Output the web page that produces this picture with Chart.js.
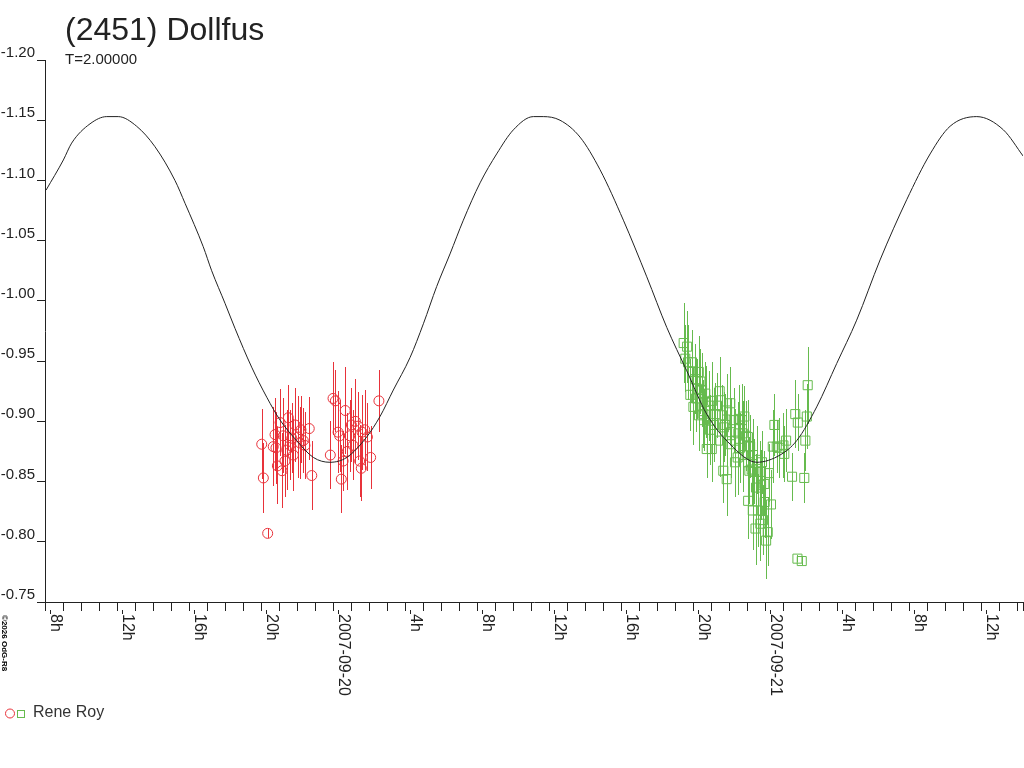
<!DOCTYPE html>
<html>
<head>
<meta charset="utf-8">
<script src="https://cdn.jsdelivr.net/npm/chart.js@4.4.0/dist/chart.umd.min.js"></script>
<style>
  html, body { margin: 0; padding: 0; background: #fff; }
  canvas { display: block; }
</style>
</head>
<body>
<canvas id="lc" width="1024" height="768"></canvas>
<script>
// hours relative to 2007-09-20 0h UT, values in magnitudes
var curveHours = [-16.19,-15.23,-14.77,-13.75,-12.82,-12.18,-11.16,-10.14,-9.03,-8.47,-7.46,-6.99,-6.25,-5.69,-4.77,-3.93,-3.19,-2.27,-1.34,-0.42,0.51,1.62,2.36,3.10,4.03,4.77,5.51,6.25,6.99,7.92,8.84,9.77,10.88,11.43,12.36,13.47,14.58,15.88,17.18,18.29,19.40,20.51,21.81,23.29,24.58,25.51,26.62,27.73,28.84,30.14,31.62,32.92,34.03,35.51,36.99,38.10];
var curveMag = [-1.092,-1.117,-1.131,-1.147,-1.153,-1.153,-1.145,-1.128,-1.100,-1.081,-1.045,-1.025,-0.998,-0.977,-0.945,-0.920,-0.901,-0.884,-0.870,-0.866,-0.870,-0.887,-0.904,-0.926,-0.953,-0.981,-1.012,-1.039,-1.067,-1.098,-1.122,-1.142,-1.153,-1.153,-1.150,-1.136,-1.109,-1.067,-1.020,-0.978,-0.942,-0.906,-0.881,-0.866,-0.872,-0.884,-0.912,-0.948,-0.984,-1.034,-1.084,-1.122,-1.145,-1.153,-1.142,-1.120];

// night 1 (red circles)
var redHours = [-4.21,-4.12,-3.88,-3.57,-3.47,-3.34,-3.19,-3.01,-2.92,-2.73,-2.82,-2.54,-2.36,-2.45,-2.18,-2.08,-1.90,-1.81,-1.57,-1.43,-3.42,-3.08,-2.64,-2.03,-0.40,-0.25,-0.12,0.03,0.12,0.21,0.43,0.31,0.54,0.68,0.77,0.99,1.14,1.23,1.32,1.51,1.66,1.84,2.30,0.86,1.36];
var redMag = [-0.881,-0.853,-0.807,-0.879,-0.889,-0.863,-0.899,-0.888,-0.867,-0.903,-0.876,-0.886,-0.897,-0.872,-0.887,-0.882,-0.884,-0.880,-0.894,-0.855,-0.878,-0.859,-0.880,-0.893,-0.872,-0.919,-0.917,-0.891,-0.888,-0.852,-0.909,-0.867,-0.875,-0.888,-0.897,-0.900,-0.896,-0.867,-0.861,-0.893,-0.887,-0.870,-0.917,-0.880,-0.891];
var redErr = [0.029,0.029,0.004,0.033,0.030,0.032,0.028,0.031,0.030,0.027,0.033,0.029,0.031,0.030,0.034,0.030,0.027,0.028,0.026,0.029,0.030,0.031,0.029,0.028,0.028,0.030,0.026,0.034,0.030,0.028,0.036,0.025,0.032,0.030,0.031,0.035,0.028,0.030,0.027,0.033,0.028,0.026,0.026,0.029,0.031];

// night 2 (green squares)
var greenHours = [19.23,19.42,19.32,19.47,19.69,19.60,19.71,19.77,19.88,19.97,20.07,20.16,20.25,20.32,20.43,20.45,20.51,20.62,20.79,20.81,20.99,21.23,21.27,21.36,21.46,21.43,21.62,21.54,21.82,21.84,22.01,22.08,22.23,22.27,22.29,22.46,22.51,22.60,22.69,22.79,22.92,22.88,23.01,23.16,23.07,23.22,23.25,23.47,23.49,23.53,23.71,23.73,23.81,23.90,23.96,24.08,24.27,24.18,24.40,24.54,24.77,24.82,24.92,25.25,25.43,25.57,25.55,25.79,25.93,25.99,26.07,26.12,
  19.92,20.08,20.36,20.69,20.92,21.08,21.64,21.86,22.08,22.36,22.53,22.81,23.08,23.31,23.58,22.81,23.36,23.64];
var greenMag = [-0.965,-0.962,-0.952,-0.949,-0.949,-0.922,-0.941,-0.912,-0.935,-0.927,-0.941,-0.933,-0.926,-0.906,-0.923,-0.916,-0.877,-0.913,-0.877,-0.917,-0.906,-0.925,-0.884,-0.905,-0.895,-0.859,-0.852,-0.897,-0.915,-0.881,-0.901,-0.866,-0.870,-0.890,-0.902,-0.901,-0.890,-0.904,-0.888,-0.887,-0.879,-0.859,-0.860,-0.858,-0.826,-0.811,-0.845,-0.858,-0.815,-0.847,-0.848,-0.833,-0.801,-0.808,-0.857,-0.831,-0.897,-0.879,-0.879,-0.878,-0.880,-0.873,-0.884,-0.854,-0.906,-0.899,-0.786,-0.784,-0.853,-0.884,-0.904,-0.930,
  -0.919,-0.905,-0.901,-0.893,-0.897,-0.913,-0.909,-0.891,-0.884,-0.878,-0.872,-0.866,-0.872,-0.868,-0.866,-0.834,-0.826,-0.818];
var greenErr = [0.033,0.030,0.028,0.031,0.027,0.030,0.026,0.032,0.029,0.025,0.030,0.027,0.031,0.028,0.026,0.030,0.024,0.029,0.027,0.032,0.026,0.028,0.030,0.025,0.029,0.027,0.031,0.026,0.030,0.028,0.027,0.029,0.031,0.026,0.028,0.030,0.027,0.025,0.029,0.031,0.026,0.028,0.030,0.027,0.033,0.030,0.028,0.026,0.031,0.029,0.027,0.030,0.032,0.028,0.024,0.029,0.026,0.030,0.022,0.025,0.027,0.023,0.026,0.020,0.028,0.024,0.003,0.003,0.021,0.025,0.027,0.032,
  0.028,0.030,0.026,0.029,0.031,0.027,0.030,0.028,0.026,0.029,0.031,0.027,0.030,0.028,0.026,0.032,0.030,0.029];

// x tick labels every 4 hours
var xMajorHours = [-16,-12,-8,-4,0,4,8,12,16,20,24,28,32,36];
var xMajorLabels = ['8h','12h','16h','20h','2007-09-20','4h','8h','12h','16h','20h','2007-09-21','4h','8h','12h'];

var RED = '#e8323a';
var GREEN = '#66bb4e';

function pts(xs, ys) {
  return xs.map(function (v, i) { return {x: v, y: ys[i]}; });
}

Chart.defaults.font.family = '"Liberation Sans", Arial, sans-serif';

// vertical error bars under the markers, one pixel wide
var errorBars = {
  id: 'errorBars',
  beforeDatasetsDraw: function (chart) {
    var ctx = chart.ctx, xs = chart.scales.x, ys = chart.scales.y;
    chart.data.datasets.forEach(function (ds) {
      if (!ds.errors) return;
      ctx.save();
      ctx.fillStyle = ds.borderColor;
      ds.data.forEach(function (p, i) {
        var px = Math.round(xs.getPixelForValue(p.x));
        var top = Math.round(ys.getPixelForValue(p.y - ds.errors[i]));
        var bot = Math.round(ys.getPixelForValue(p.y + ds.errors[i]));
        ctx.fillRect(px, top, 1, Math.max(1, bot - top));
      });
      ctx.restore();
    });
  }
};

// title, rotated x labels, legend, credit
var decor = {
  id: 'decor',
  afterDraw: function (chart) {
    var ctx = chart.ctx, xs = chart.scales.x, area = chart.chartArea;
    ctx.save();
    ctx.fillStyle = '#222';
    ctx.textBaseline = 'alphabetic';
    ctx.font = '32px "Liberation Sans", Arial, sans-serif';
    ctx.fillText('(2451) Dollfus', 65, 40);
    ctx.font = '15px "Liberation Sans", Arial, sans-serif';
    ctx.fillText('T=2.00000', 65, 64);

    // longer marks at the labelled ticks
    xMajorHours.forEach(function (h) {
      var px = Math.round(xs.getPixelForValue(h));
      ctx.fillRect(px, area.bottom + 8, 1, 4);
    });

    ctx.font = '16px "Liberation Sans", Arial, sans-serif';
    ctx.textAlign = 'left';
    xMajorHours.forEach(function (h, i) {
      var px = Math.round(xs.getPixelForValue(h));
      ctx.save();
      ctx.translate(px, area.bottom + 12);
      ctx.rotate(Math.PI / 2);
      ctx.fillText(xMajorLabels[i], 0, -1);
      ctx.restore();
    });

    ctx.save();
    ctx.font = 'bold 8px "Liberation Sans", Arial, sans-serif';
    ctx.fillStyle = '#000';
    ctx.translate(1, 615);
    ctx.rotate(Math.PI / 2);
    ctx.fillText('\u00a92026 OdG-R8', 0, -1);
    ctx.restore();

    // legend
    ctx.strokeStyle = RED;
    ctx.lineWidth = 1;
    ctx.beginPath();
    ctx.arc(10, 713.5, 4.5, 0, Math.PI * 2);
    ctx.stroke();
    ctx.strokeStyle = GREEN;
    ctx.strokeRect(17.5, 710.5, 7, 7);
    ctx.fillStyle = '#333';
    ctx.font = '16px "Liberation Sans", Arial, sans-serif';
    ctx.textBaseline = 'middle';
    ctx.fillText('Rene Roy', 33, 713);
    ctx.restore();
  }
};

new Chart(document.getElementById('lc'), {
  type: 'scatter',
  data: {
    datasets: [{
      type: 'line',
      label: 'fit',
      data: pts(curveHours, curveMag),
      borderColor: '#222',
      borderWidth: 1,
      pointRadius: 0,
      fill: false,
      cubicInterpolationMode: 'monotone'
    }, {
      label: 'Rene Roy 1',
      data: pts(redHours, redMag),
      errors: redErr,
      pointStyle: 'circle',
      pointRadius: 5,
      borderColor: RED,
      borderWidth: 1,
      backgroundColor: 'rgba(0,0,0,0)'
    }, {
      label: 'Rene Roy 2',
      data: pts(greenHours, greenMag),
      errors: greenErr,
      pointStyle: 'rect',
      pointRadius: 6.4,
      borderColor: GREEN,
      borderWidth: 1,
      backgroundColor: 'rgba(0,0,0,0)'
    }]
  },
  options: {
    responsive: false,
    animation: false,
    devicePixelRatio: 1,
    layout: { autoPadding: false, padding: { top: 60, left: 0, right: 1, bottom: 0 } },
    plugins: { legend: { display: false }, tooltip: { enabled: false } },
    scales: {
      x: {
        type: 'linear',
        bounds: 'data',
        min: -16.25,
        max: 38.08,
        afterFit: function (s) { s.height = 166; s.paddingLeft = 0; s.paddingRight = 0; },
        border: { color: '#222', width: 1 },
        grid: { drawOnChartArea: false, drawTicks: true, tickLength: 9, color: '#222' },
        ticks: { stepSize: 1, includeBounds: false, maxTicksLimit: 100, autoSkip: false, display: false }
      },
      y: {
        min: -1.20,
        max: -0.75,
        reverse: true,
        afterFit: function (s) { s.width = 45; },
        border: { color: '#222', width: 1 },
        grid: { drawOnChartArea: false, drawTicks: true, tickLength: 8, color: '#222' },
        ticks: {
          stepSize: 0.05,
          padding: 2,
          labelOffset: -7,
          color: '#222',
          font: { size: 15 },
          callback: function (v) { return v.toFixed(2); }
        }
      }
    }
  },
  plugins: [errorBars, decor]
});
</script>
</body>
</html>
